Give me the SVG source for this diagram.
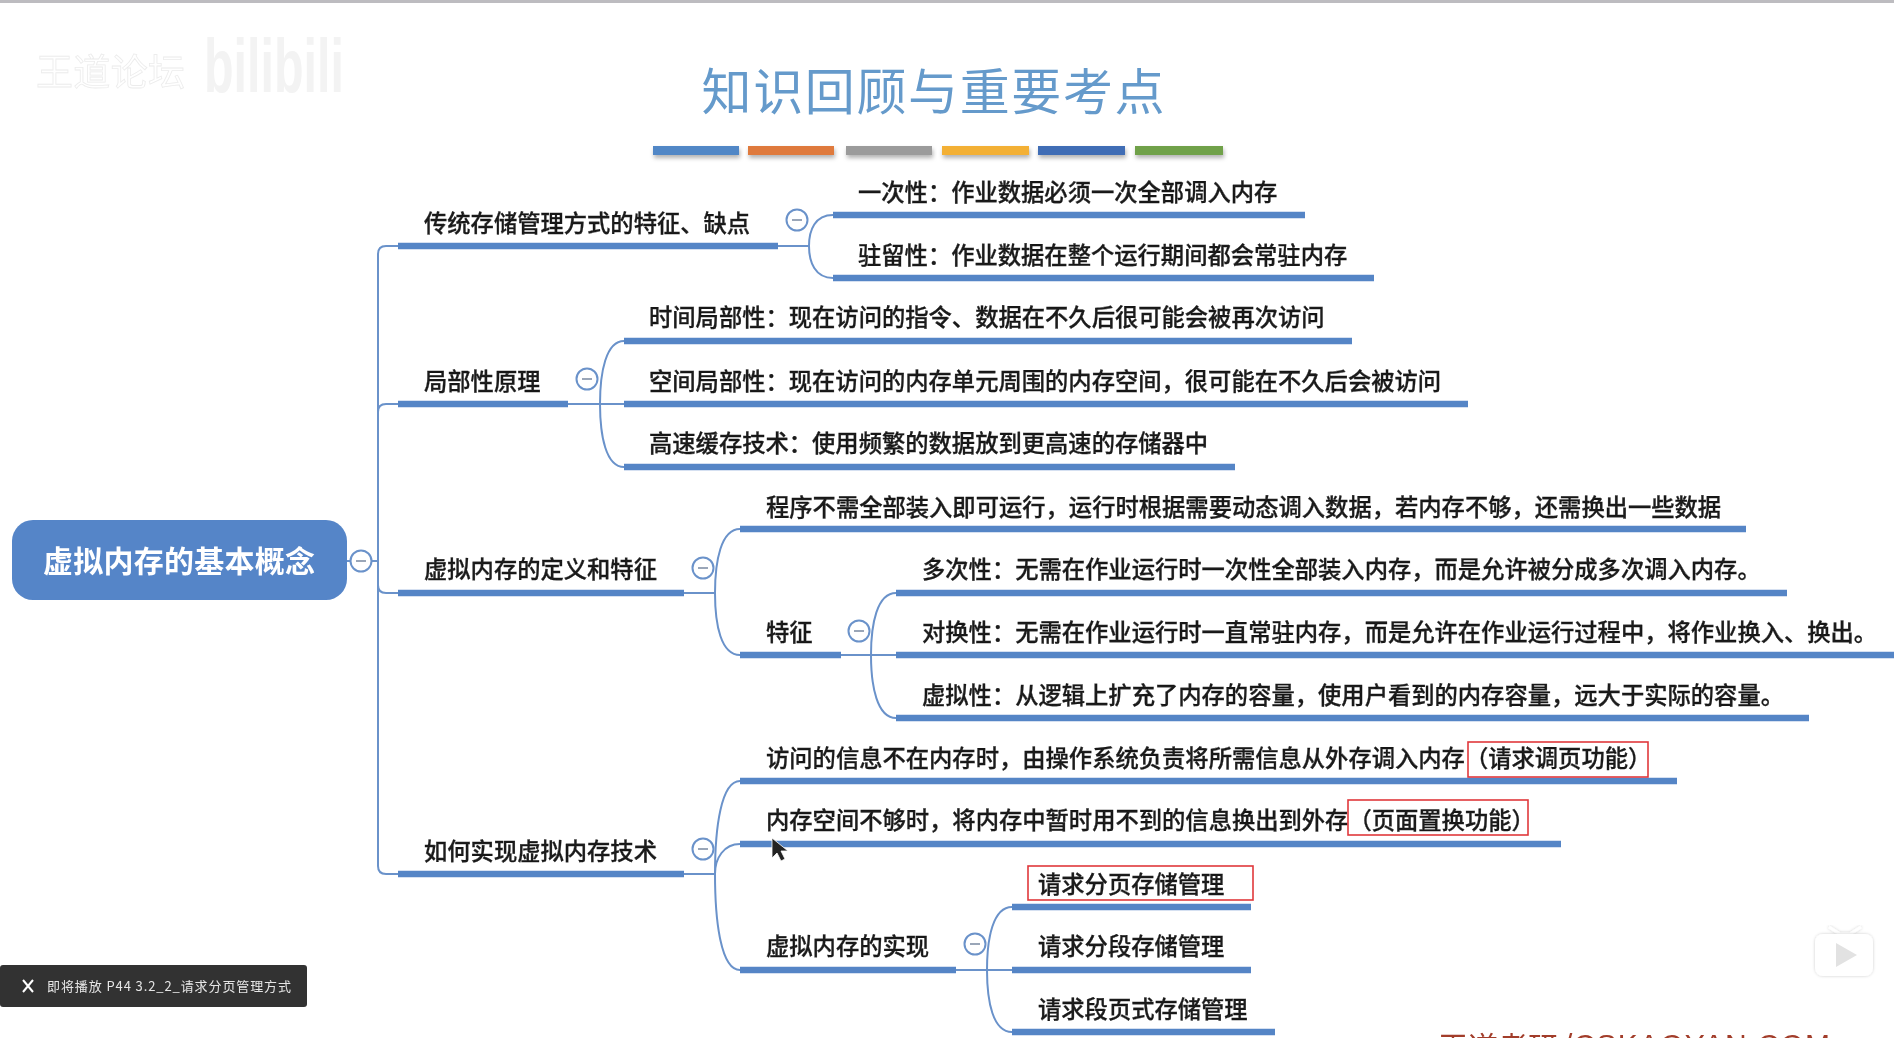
<svg xmlns="http://www.w3.org/2000/svg" width="1894" height="1038" viewBox="0 0 1894 1038">
<defs>
<filter id="soft" x="-2%" y="-2%" width="104%" height="104%"><feGaussianBlur stdDeviation="0.5"/></filter>
<filter id="barshadow" x="-5%" y="-50%" width="110%" height="250%"><feDropShadow dx="1" dy="3" stdDeviation="2" flood-color="#000" flood-opacity="0.3"/></filter>
<filter id="tvshadow" x="-20%" y="-20%" width="140%" height="140%"><feDropShadow dx="0" dy="0" stdDeviation="1.5" flood-color="#000" flood-opacity="0.2"/></filter>
</defs>
<style>
text{font-family:"Noto Sans CJK SC","Liberation Sans",sans-serif}
.t{font-size:23.3px;fill:#1a1a1a;font-weight:500;stroke:#1a1a1a;stroke-width:0.3}
.bar{fill:none;stroke:#5585c6;stroke-width:6.500}
.con{fill:none;stroke:#6a92ca;stroke-width:2}
.col{fill:#fff;stroke:#6a92ca;stroke-width:2}
.dash{stroke:#9aa6b8;stroke-width:2}
.box{fill:none;stroke:#e0383c;stroke-width:1.6}
.swatch{filter:url(#barshadow)}
</style>
<rect width="1894" height="1038" fill="#fff"/>
<rect width="1894" height="3" fill="#bdbcc0"/>
<g filter="url(#soft)">
<g id="watermark">
<text x="36" y="86" font-size="37" fill="#fff" stroke="#ececec" stroke-width="0.8" textLength="149">王道论坛</text>
<text x="204" y="92" font-size="76" font-weight="700" fill="#f3f3f3" textLength="140" lengthAdjust="spacingAndGlyphs" style="font-family:'Liberation Sans',sans-serif">bilibili</text>
</g>
<g id="title">
<text x="933" y="110" font-size="50" fill="#659acb" text-anchor="middle" textLength="463">知识回顾与重要考点</text>
</g>
<g id="swatches">
<rect class="swatch" x="653" y="146" width="86" height="9" fill="#5187c6"/>
<rect class="swatch" x="748" y="146" width="86" height="9" fill="#df7a3e"/>
<rect class="swatch" x="846" y="146" width="86" height="9" fill="#9b9b9b"/>
<rect class="swatch" x="942" y="146" width="87" height="9" fill="#f3b034"/>
<rect class="swatch" x="1038" y="146" width="87" height="9" fill="#3f6db5"/>
<rect class="swatch" x="1135" y="146" width="88" height="9" fill="#6fa14a"/>
</g>
<g id="connectors">
<path class="con" d="M347 561H378M398 246H386Q378 246 378 254V866Q378 874 386 874H398M378 412Q378 404 386 404H398M378 585Q378 593 386 593H398"/>
<path class="con" d="M778 246H809M833 215C815 215 809 230 809 246C809 262 815 278 833 278"/>
<path class="con" d="M568 404H624M624 341C606 341 600 372 600 404C600 436 606 467 624 467"/>
<path class="con" d="M684 593H715M740 529C721 529 715 561 715 593C715 625 721 655 740 655"/>
<path class="con" d="M841 655H896M896 593C877 593 871 624 871 655C871 686 877 718 896 718"/>
<path class="con" d="M684 874H715M740 781C721 781 715 828 715 874C715 922 721 970 740 970M740 844C724 844 715 858 715 874"/>
<path class="con" d="M956 970H1012M1012 907C993 907 987 938 987 970C987 1002 993 1032 1012 1032"/>
</g>
<g id="root">
<rect x="12" y="520" width="335" height="80" rx="21" fill="#5585c8"/>
<text x="179" y="572" font-size="30" font-weight="700" fill="#fff" text-anchor="middle" textLength="272">虚拟内存的基本概念</text>
<circle class="col" cx="361" cy="561" r="10.500"/><path class="dash" d="M356 561H366"/>
</g>
<g id="n-chuantong">
<path class="bar" d="M398 246H778"/><text class="t" x="424" y="232">传统存储管理方式的特征、缺点</text>
<circle class="col" cx="797" cy="220" r="10.500"/><path class="dash" d="M792 220H802"/>
</g>
<g id="n-yicixing"><path class="bar" d="M833 215H1305"/><text class="t" x="858" y="201">一次性：作业数据必须一次全部调入内存</text></g>
<g id="n-zhuliuxing"><path class="bar" d="M833 278H1374"/><text class="t" x="858" y="264">驻留性：作业数据在整个运行期间都会常驻内存</text></g>
<g id="n-jubu">
<path class="bar" d="M398 404H568"/><text class="t" x="424" y="390">局部性原理</text>
<circle class="col" cx="587" cy="379" r="10.500"/><path class="dash" d="M582 379H592"/>
</g>
<g id="n-shijian"><path class="bar" d="M624 341H1352"/><text class="t" x="649" y="326">时间局部性：现在访问的指令、数据在不久后很可能会被再次访问</text></g>
<g id="n-kongjian"><path class="bar" d="M624 404H1468"/><text class="t" x="649" y="390">空间局部性：现在访问的内存单元周围的内存空间，很可能在不久后会被访问</text></g>
<g id="n-gaosu"><path class="bar" d="M624 467H1235"/><text class="t" x="649" y="452">高速缓存技术：使用频繁的数据放到更高速的存储器中</text></g>
<g id="n-dingyi">
<path class="bar" d="M398 593H684"/><text class="t" x="424" y="578">虚拟内存的定义和特征</text>
<circle class="col" cx="703" cy="568" r="10.500"/><path class="dash" d="M698 568H708"/>
</g>
<g id="n-chengxu"><path class="bar" d="M740 529H1746"/><text class="t" x="766" y="516">程序不需全部装入即可运行，运行时根据需要动态调入数据，若内存不够，还需换出一些数据</text></g>
<g id="n-tezheng">
<path class="bar" d="M740 655H841"/><text class="t" x="766" y="641">特征</text>
<circle class="col" cx="859" cy="631" r="10.500"/><path class="dash" d="M854 631H864"/>
</g>
<g id="n-duoci"><path class="bar" d="M896 593H1787"/><text class="t" x="922" y="578">多次性：无需在作业运行时一次性全部装入内存，而是允许被分成多次调入内存。</text></g>
<g id="n-duihuan"><path class="bar" d="M896 655H1894"/><text class="t" x="922" y="641">对换性：无需在作业运行时一直常驻内存，而是允许在作业运行过程中，将作业换入、换出。</text></g>
<g id="n-xuni"><path class="bar" d="M896 718H1809"/><text class="t" x="922" y="704">虚拟性：从逻辑上扩充了内存的容量，使用户看到的内存容量，远大于实际的容量。</text></g>
<g id="n-ruhe">
<path class="bar" d="M398 874H684"/><text class="t" x="424" y="860">如何实现虚拟内存技术</text>
<circle class="col" cx="703" cy="849" r="10.500"/><path class="dash" d="M698 849H708"/>
</g>
<g id="n-fangwen"><path class="bar" d="M740 781H1677"/><text class="t" x="766" y="767">访问的信息不在内存时，由操作系统负责将所需信息从外存调入内存（请求调页功能）</text><rect class="box" x="1468" y="742" width="180" height="35"/></g>
<g id="n-neicun"><path class="bar" d="M740 844H1561"/><text class="t" x="766" y="829">内存空间不够时，将内存中暂时用不到的信息换出到外存（页面置换功能）</text><rect class="box" x="1348" y="800" width="180" height="35"/></g>
<g id="n-shixian">
<path class="bar" d="M740 970H956"/><text class="t" x="766" y="955">虚拟内存的实现</text>
<circle class="col" cx="975" cy="944" r="10.500"/><path class="dash" d="M970 944H980"/>
</g>
<g id="n-fenye"><path class="bar" d="M1012 907H1251"/><text class="t" x="1038" y="893">请求分页存储管理</text><rect class="box" x="1028" y="866" width="225" height="34"/></g>
<g id="n-fenduan"><path class="bar" d="M1012 970H1251"/><text class="t" x="1038" y="955">请求分段存储管理</text></g>
<g id="n-duanye"><path class="bar" d="M1012 1032H1275"/><text class="t" x="1038" y="1018">请求段页式存储管理</text></g>
<g id="cursor"><path d="M772 838V858L777 853L781 861L785 859L781 851L788 851Z" fill="#222" stroke="#fff" stroke-width="0.8"/></g>
<g id="toast">
<rect x="0" y="965" width="307" height="42" rx="3" fill="#333"/>
<path d="M23 980L33 992M33 980L23 992" stroke="#fff" stroke-width="2" fill="none"/>
<text x="47" y="991" font-size="13" fill="#e6e6e6" textLength="244">即将播放 P44 3.2_2_请求分页管理方式</text>
</g>
<g id="tv">
<path d="M1829 927L1840 934H1850L1861 927" fill="none" stroke="#fff" stroke-width="3" filter="url(#tvshadow)"/>
<rect x="1815" y="934" width="58" height="42" rx="8" fill="#fff" filter="url(#tvshadow)"/>
<path d="M1836 943L1857 955L1836 967Z" fill="#e2e2e2"/>
</g>
<g id="footer">
<text x="1438" y="1058" font-size="30" fill="#a23d2a">王道考研<tspan x="1564" y="1055" style="font-family:'Liberation Sans',sans-serif" textLength="266">/CSKAOYAN.COM</tspan></text>
</g>
</g>
</svg>
